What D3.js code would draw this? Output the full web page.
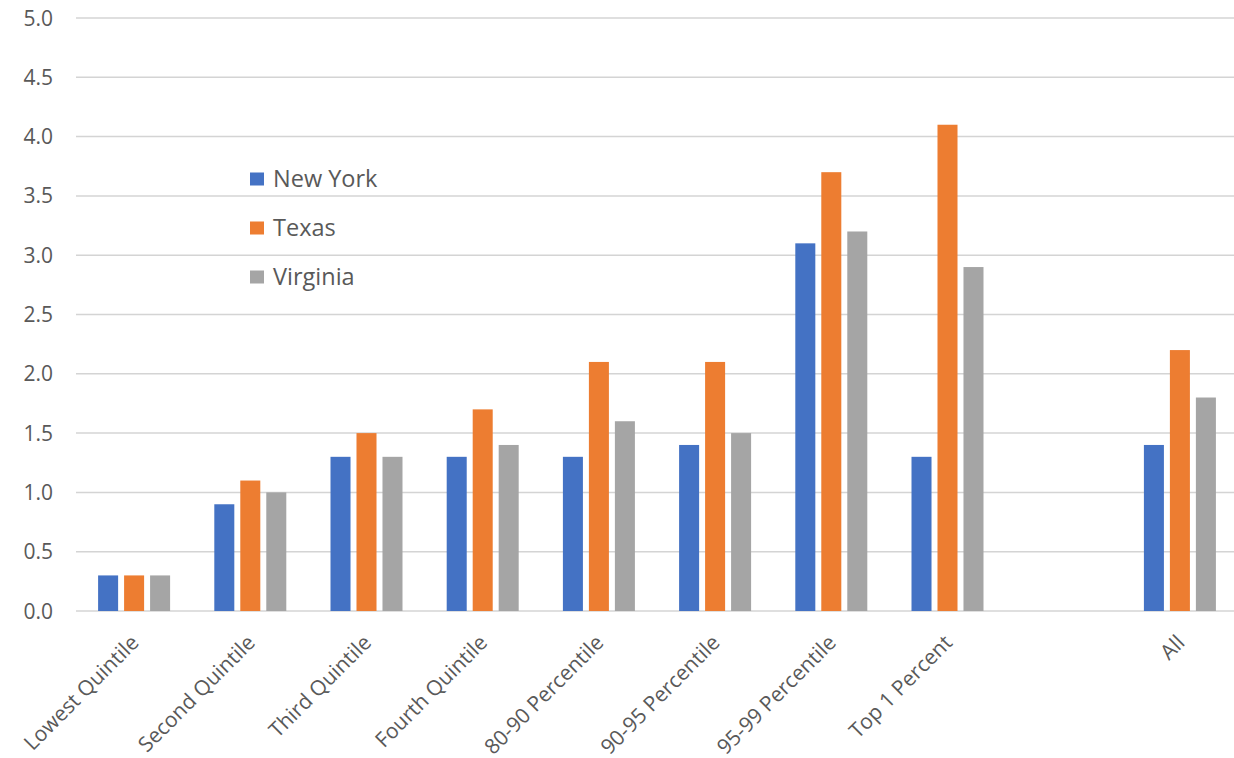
<!DOCTYPE html>
<html>
<head>
<meta charset="utf-8">
<script src="https://cdn.jsdelivr.net/npm/d3@7"></script>
<style>
  body { margin: 0; background: #fff; }
  svg text { font-family: "Open Sans", Lato, sans-serif; fill: #595959; }
</style>
</head>
<body>
<svg id="chart" width="1234" height="758"></svg>
<script>
// categories along the x axis (one blank slot before "All")
const categories = ["Lowest Quintile", "Second Quintile", "Third Quintile", "Fourth Quintile",
  "80-90 Percentile", "90-95 Percentile", "95-99 Percentile", "Top 1 Percent", "", "All"];
const seriesNames = ["New York", "Texas", "Virginia"];
const newYork = [0.3, 0.9, 1.3, 1.3, 1.3, 1.4, 3.1, 1.3, null, 1.4];
const texas = [0.3, 1.1, 1.5, 1.7, 2.1, 2.1, 3.7, 4.1, null, 2.2];
const virginia = [0.3, 1.0, 1.3, 1.4, 1.6, 1.5, 3.2, 2.9, null, 1.8];
const yTicks = [0, 0.5, 1, 1.5, 2, 2.5, 3, 3.5, 4, 4.5, 5];
const colors = ["#4472C4", "#ED7D31", "#A5A5A5"];

const series = [newYork, texas, virginia];
const svg = d3.select("#chart");

// scales
let x = d3.scaleBand()
  .domain(d3.range(categories.length))
  .range([76, 1238]);
let xInner = d3.scaleBand()
  .domain(d3.range(seriesNames.length))
  .range([-36, 36])
  .paddingInner(0.23);
let y = d3.scaleLinear().domain([0, 5]).range([611, 18]);

// gridlines
svg.append("g")
  .selectAll("line")
  .data(yTicks)
  .enter()
  .append("line")
  .attr("x1", 76)
  .attr("x2", 1234)
  .attr("y1", d => y(d))
  .attr("y2", d => y(d))
  .attr("stroke", "#d4d4d4")
  .attr("stroke-width", 1.5);

// y tick labels
svg.append("g")
  .selectAll("text")
  .data(yTicks)
  .enter()
  .append("text")
  .attr("x", 53)
  .attr("y", d => y(d))
  .attr("dy", "0.36em")
  .attr("text-anchor", "end")
  .style("font-size", "21px")
  .text(d => d.toFixed(1));

// bars
series.forEach((vals, s) => {
  svg.append("g")
    .selectAll("rect")
    .data(vals.map((v, i) => ({ v, i })).filter(d => d.v !== null))
    .enter()
    .append("rect")
    .attr("x", d => x(d.i) + x.bandwidth() / 2 + xInner(s))
    .attr("width", xInner.bandwidth())
    .attr("y", d => y(d.v))
    .attr("height", d => y(0) - y(d.v))
    .attr("fill", colors[s]);
});

// x labels, rotated
svg.append("g")
  .selectAll("text")
  .data(categories.map((c, i) => ({ c, i })).filter(d => d.c !== ""))
  .enter()
  .append("text")
  .attr("transform", d => `translate(${x(d.i) + x.bandwidth() / 2 + 6},${644}) rotate(-45)`)
  .attr("text-anchor", "end")
  .style("font-size", "21px")
  .text(d => d.c);

// legend
const legend = svg.append("g").attr("transform", "translate(250,179)");
seriesNames.forEach((name, s) => {
  let row = legend.append("g").attr("transform", `translate(0,${s * 49})`);
  row.append("rect")
    .attr("x", 0)
    .attr("y", -6.5)
    .attr("width", 14)
    .attr("height", 13)
    .attr("fill", colors[s]);
  row.append("text")
    .attr("x", 23)
    .attr("dy", "0.36em")
    .style("font-size", "23.5px")
    .text(name);
});
</script>
</body>
</html>
